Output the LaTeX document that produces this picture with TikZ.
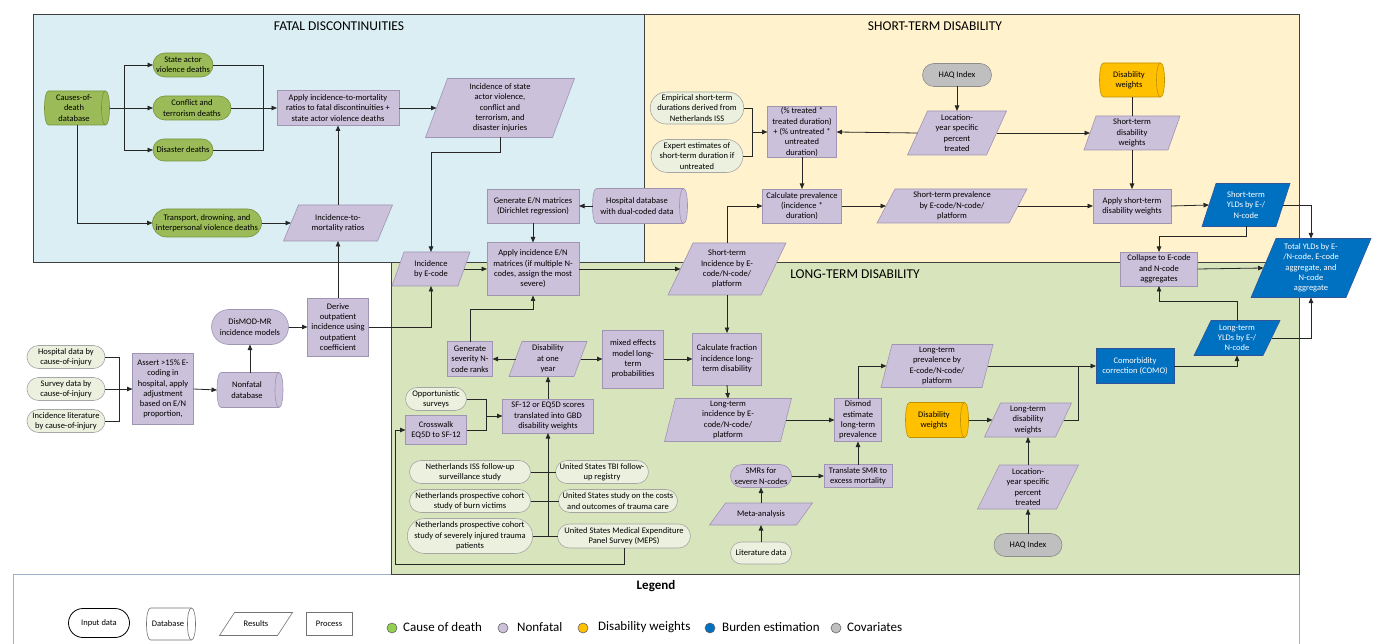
\documentclass[tikz,border=0pt]{standalone}
\usepackage{fontspec}
\setmainfont{Carlito}
\usetikzlibrary{arrows.meta,shapes.misc}
\definecolor{pBlue}{HTML}{DAEEF3}
\definecolor{pYel}{HTML}{FFF2CC}
\definecolor{pGrn}{HTML}{D8E4BC}
\definecolor{cPur}{HTML}{CCC1DA}
\definecolor{cPurB}{HTML}{9F95B3}
\definecolor{cGrn}{HTML}{9BBB59}
\definecolor{cGrnB}{HTML}{76923C}
\definecolor{cInp}{HTML}{EBF1DE}
\definecolor{cInpB}{HTML}{A6A6A6}
\definecolor{cOra}{HTML}{FFC000}
\definecolor{cOraB}{HTML}{BF9000}
\definecolor{cBlu}{HTML}{0070C0}
\definecolor{cBluB}{HTML}{2F5597}
\definecolor{cGry}{HTML}{BFBFBF}
\definecolor{cGryB}{HTML}{8C8C8C}
\definecolor{cLeg}{HTML}{9DB3CC}
\definecolor{cLine}{HTML}{262626}
\definecolor{cDotG}{HTML}{92D050}
% parallelogram: name, cx, cy, total width, height, slant, kind, text
\newcommand\ParaShape[8]{%
  \path[#7 shape] ({#2-#4/2+#6},{#3-#5/2}) -- ({#2+#4/2},{#3-#5/2}) -- ({#2+#4/2-#6},{#3+#5/2}) -- ({#2-#4/2},{#3+#5/2}) -- cycle;
  \node[#7 text, minimum width={(#4-#6)*1pt}, minimum height={#5*1pt}] (#1) at (#2,#3) {#8};}
% database: name, cx, cy, width, height, kind, text
\newcommand\DbShape[7]{%
  \path[#6 shape] ({#2-#4/2+4},{#3-#5/2}) -- ({#2+#4/2-4},{#3-#5/2})
    .. controls ({#2+#4/2+1.33},{#3-#5/2}) and ({#2+#4/2+1.33},{#3+#5/2}) .. ({#2+#4/2-4},{#3+#5/2})
    -- ({#2-#4/2+4},{#3+#5/2})
    .. controls ({#2-#4/2-1.33},{#3+#5/2}) and ({#2-#4/2-1.33},{#3-#5/2}) .. ({#2-#4/2+4},{#3-#5/2}) -- cycle;
  \path[#6 shape, fill=none] ({#2+#4/2-4},{#3-#5/2})
    .. controls ({#2+#4/2-9.33},{#3-#5/2}) and ({#2+#4/2-9.33},{#3+#5/2}) .. ({#2+#4/2-4},{#3+#5/2});
  \node[#6 text, minimum width={#4*1pt}, minimum height={#5*1pt}] (#1) at (#2,#3) {};
  \node[#6 text] (#1-t) at ({#2-3},#3) {#7};}
\begin{document}
\begin{tikzpicture}[x=1pt,y=-1pt,
  txt/.style={font=\fontsize{8.5}{10.3}\selectfont, align=center, inner sep=0pt, outer sep=0pt},
  proc/.style={txt, rectangle, fill=cPur, draw=cPurB, line width=0.6pt},
  procb/.style={txt, rectangle, fill=cBlu, draw=cBluB, line width=0.6pt, text=white},
  termg/.style={txt, rounded rectangle, fill=cGrn, draw=cGrnB, line width=0.6pt},
  termp/.style={txt, rounded rectangle, fill=cPur, draw=cPurB, line width=0.6pt},
  termgr/.style={txt, rounded rectangle, fill=cGry, draw=cGryB, line width=0.6pt},
  inp/.style={txt, rounded rectangle, fill=cInp, draw=cInpB, line width=0.6pt},
  pp shape/.style={fill=cPur, draw=cPurB, line width=0.6pt},
  pp text/.style={txt},
  pb shape/.style={fill=cBlu, draw=cBluB, line width=0.6pt},
  pb text/.style={txt, text=white},
  pg shape/.style={fill=cGrn, draw=cGrnB, line width=0.6pt},
  pg text/.style={txt},
  po shape/.style={fill=cOra, draw=cOraB, line width=0.6pt},
  po text/.style={txt},
  pw shape/.style={fill=white, draw=black!55, line width=0.6pt},
  pw text/.style={txt},
  ln/.style={draw=cLine, line width=0.8pt},
  arr/.style={ln, -{Triangle[length=5.5pt,width=4.5pt]}},
  title/.style={font=\fontsize{13.5}{16}\selectfont, inner sep=0pt},
  leglab/.style={font=\fontsize{13}{15}\selectfont, inner sep=0pt, anchor=west},
  legdot/.style={circle, minimum size=10pt, inner sep=0pt, line width=0.6pt},
]
\useasboundingbox (0,0) rectangle (1373,644);
% legend frame
\draw[cLeg, line width=0.9pt] (13,660) -- (13,574) -- (1299,574) -- (1299,660);
% panels
\fill[pBlue] (33,14) rectangle (644,262);
\fill[pYel] (644,14) rectangle (1299,262);
\fill[pGrn] (391,262) rectangle (1299,574);
\draw[black!75, line width=0.9pt] (33,14) rectangle (644,262);
\draw[black!75, line width=0.9pt] (644,14) rectangle (1299,262);
\draw[black!75, line width=0.9pt] (391,262) rectangle (1299,574);
\node[title] (tfatal) at (339,26) {FATAL DISCONTINUITIES};
\node[title] (tshort) at (935,26) {SHORT-TERM DISABILITY};
\node[title] (tlong) at (855,274) {LONG-TERM DISABILITY};

% ---------- fatal discontinuities
\DbShape{cod}{77}{108}{65}{34}{pg}{Causes-of-\\death\\database}
\node[termg, minimum width=60, minimum height=24] (state) at (183,65) {State actor\\violence deaths};
\node[termg, minimum width=78, minimum height=24] (conf) at (192,108) {Conflict and\\terrorism deaths};
\node[termg, minimum width=60, minimum height=22] (dis) at (183,150) {Disaster deaths};
\node[termg, minimum width=109, minimum height=28] (trans) at (207,223) {Transport, drowning, and\\interpersonal violence deaths};
\node[proc, minimum width=122, minimum height=35] (apply) at (338,108) {Apply incidence-to-mortality\\ratios to fatal discontinuities +\\state actor violence deaths};
\ParaShape{isv}{500}{108}{149}{59}{22}{pp}{Incidence of state\\actor violence,\\conflict and\\terrorism, and\\disaster injuries}
\ParaShape{imr}{338}{223}{109}{36}{15}{pp}{Incidence-to-\\mortality ratios}
\node[proc, minimum width=92, minimum height=34] (gen) at (533,206) {Generate E/N matrices\\(Dirichlet regression)};
\DbShape{hosp}{640}{206}{95}{35}{pp}{Hospital database\\with dual-coded data}

% ---------- left inputs
\node[inp, minimum width=78, minimum height=23] (hd) at (66,357) {Hospital data by\\cause-of-injury};
\node[inp, minimum width=78, minimum height=23] (sd) at (66,389) {Survey data by\\cause-of-injury};
\node[inp, minimum width=78, minimum height=23] (ld) at (66,421) {Incidence literature\\by cause-of-injury};
\node[proc, minimum width=61, minimum height=71] (assert) at (163,389) {Assert >15\% E-\\coding in\\hospital, apply\\adjustment\\based on E/N\\proportion,};
\DbShape{nfdb}{250}{390}{66}{35}{pp}{Nonfatal\\database}
\node[termp, minimum width=77, minimum height=35] (dismod) at (250,327) {DisMOD-MR\\incidence models};
\node[proc, minimum width=61, minimum height=58] (derive) at (338,327) {Derive\\outpatient\\incidence using\\outpatient\\coefficient};

% ---------- short-term
\node[inp, minimum width=92, minimum height=32] (emp) at (697,108) {Empirical short-term\\durations derived from\\Netherlands ISS};
\node[inp, minimum width=92, minimum height=33] (exp) at (697,156) {Expert estimates of\\short-term duration if\\untreated};
\node[proc, minimum width=69, minimum height=51] (trt) at (802,132) {(\% treated *\\treated duration)\\+ (\% untreated *\\untreated\\duration)};
\node[termgr, minimum width=69, minimum height=23] (haq1) at (957,75) {HAQ Index};
\ParaShape{loc1}{957}{133}{99}{44}{20}{pp}{Location-\\year specific\\percent\\treated}
\DbShape{dw1}{1132}{80}{65}{34}{po}{Disability\\weights}
\ParaShape{stdw}{1132}{133}{96}{34}{12}{pp}{Short-term\\disability\\weights}
\node[proc, minimum width=79, minimum height=34] (calcp) at (802,206) {Calculate prevalence\\(incidence *\\duration)};
\ParaShape{stp}{952}{206}{150}{34}{18}{pp}{Short-term prevalence\\by E-code/N-code/\\platform}
\node[proc, minimum width=78, minimum height=34] (astdw) at (1132,206) {Apply short-term\\disability weights};
\ParaShape{styld}{1246}{205}{88}{43}{14}{pb}{Short-term\\YLDs by E-/\\N-code}

% ---------- long-term
\node[proc, minimum width=77, minimum height=34] (collapse) at (1159,269) {Collapse to E-code\\and N-code\\aggregates};
\ParaShape{total}{1311}{268}{120}{59}{25}{pb}{Total YLDs by E-\\/N-code, E-code\\aggregate, and\\N-code\\aggregate}
\ParaShape{ltyld}{1237}{338}{86}{35}{17}{pb}{Long-term\\YLDs by E-/\\N-code}
\node[procb, minimum width=78, minimum height=35] (como) at (1135,366) {Comorbidity\\correction (COMO)};
\ParaShape{ltp}{937}{366}{112}{43}{11}{pp}{Long-term\\prevalence by\\E-code/N-code/\\platform}
\node[proc, minimum width=47, minimum height=43] (dismod2) at (858,420) {Dismod\\estimate\\long-term\\prevalence};
\ParaShape{lti}{728}{420}{127}{43}{11}{pp}{Long-term\\incidence by E-\\code/N-code/\\platform}
\node[proc, minimum width=69, minimum height=52] (cfl) at (727,359) {Calculate fraction\\incidence long-\\term disability};
\ParaShape{sti}{727}{269}{118}{52}{25}{pp}{Short-term\\Incidence by E-\\code/N-code/\\platform}
\ParaShape{ibe}{431}{269}{78}{34}{12}{pp}{Incidence\\by E-code}
\node[proc, minimum width=92, minimum height=53] (aien) at (533,269) {Apply incidence E/N\\matrices (if multiple N-\\codes, assign the most\\severe)};
\node[proc, minimum width=45, minimum height=35] (gsr) at (470,359) {Generate\\severity N-\\code ranks};
\ParaShape{dao}{548}{359}{78}{35}{13}{pp}{Disability\\at one\\year}
\node[proc, minimum width=61, minimum height=58] (mixed) at (633,359) {mixed effects\\model long-\\term\\probabilities};
\node[proc, minimum width=91, minimum height=34] (sf) at (548,416) {SF-12 or EQ5D scores\\translated into GBD\\disability weights};
\node[inp, minimum width=61, minimum height=23] (opp) at (436,399) {Opportunistic\\surveys};
\node[proc, minimum width=61, minimum height=29] (cw) at (436,430) {Crosswalk\\EQ5D to SF-12};
\node[inp, minimum width=121, minimum height=23] (nl1) at (470,472) {Netherlands ISS follow-up\\surveillance study};
\node[inp, minimum width=121, minimum height=23] (nl2) at (470,501) {Netherlands prospective cohort\\study of burn victims};
\node[inp, minimum width=121, minimum height=35] (nl3) at (470,536) {Netherlands prospective cohort\\study of severely injured trauma\\patients};
\node[inp, minimum width=91, minimum height=23] (us1) at (602,472) {United States TBI follow-\\up registry};
\node[inp, minimum width=119, minimum height=23] (us2) at (618,501) {United States study on the costs\\and outcomes of trauma care};
\node[inp, minimum width=133, minimum height=24] (us3) at (624,536) {United States Medical Expenditure\\Panel Survey (MEPS)};
\node[inp, minimum width=61, minimum height=22] (lit) at (761,553) {Literature data};
\ParaShape{meta}{761}{514}{103}{22}{16}{pp}{Meta-analysis}
\node[termp, minimum width=61, minimum height=23] (smr) at (761,476) {SMRs for\\severe N-codes};
\node[proc, minimum width=68, minimum height=23] (translate) at (858,476) {Translate SMR to\\excess mortality};
\DbShape{dw2}{937}{420}{63}{35}{po}{Disability\\weights}
\ParaShape{ltdw}{1028}{420}{87}{34}{16}{pp}{Long-term\\disability\\weights}
\ParaShape{loc2}{1028}{487}{101}{44}{22}{pp}{Location-\\year specific\\percent\\treated}
\node[termgr, minimum width=68, minimum height=23] (haq2) at (1028,545) {HAQ Index};

% ---------- bus coordinates
\coordinate (b1) at (124,108);
\coordinate (b2) at (263,108);
\coordinate (b3) at (119,389);
\coordinate (b4) at (752,132);
\coordinate (b5) at (1078,366);
\coordinate (b6) at (486,416);
\coordinate (b7) at (548,536);
\coordinate (b8) at (395,564);

% ---------- connectors
\draw[arr] (cod.east) -- (conf.west);
\draw[arr] (b1) |- (state.west);
\draw[arr] (b1) |- (dis.west);
\draw[arr] (cod.south) |- (trans.west);
\draw[ln] (state.east) -| (b2);
\draw[ln] (dis.east) -| (b2);
\draw[arr] (conf.east) -- (apply.west);
\draw[arr] (trans.east) -- (imr.west);
\draw[arr] (imr.north) -- (apply.south);
\draw[arr] (apply.east) -- (isv.west);
\draw[arr] (isv.south) -- ++(0,15) -| (ibe.north);
\draw[arr] (hosp.west) -- (gen.east);
\draw[arr] (gen.south) -- (aien.north);
\draw[arr] (ibe.east) -- (aien.west);
\draw[arr] (derive.east) -| (ibe.south);
\draw[arr] (derive.north) -- (imr.south);

\draw[ln] (hd.east) -| (b3);
\draw[ln] (ld.east) -| (b3);
\draw[arr] (sd.east) -- (assert.west);
\draw[arr] (assert.east) -- (nfdb.west);
\draw[arr] (nfdb.north) -- (dismod.south);
\draw[arr] (dismod.east) -- (derive.west);

\draw[ln] (emp.east) -| (b4);
\draw[ln] (exp.east) -| (b4);
\draw[arr] (b4) -- (trt.west);
\draw[arr] (loc1.west) -- (trt.east);
\draw[arr] (haq1.south) -- (loc1.north);
\draw[arr] (loc1.east) -- (stdw.west);
\draw[ln] (dw1.south) -- (stdw.north);
\draw[arr] (stdw.south) -- (astdw.north);
\draw[arr] (trt.south) -- (calcp.north);
\draw[arr] (calcp.east) -- (stp.west);
\draw[arr] (stp.east) -- (astdw.west);
\draw[arr] (astdw.east) -- (styld.west);
\draw[arr] (sti.north) |- (calcp.west);
\draw[arr] (styld.east) -| (total.north);
\draw[arr] (styld.south) -- ++(0,10) -| (collapse.north);

\draw[arr] (collapse.east) -- (total.west);
\draw[arr] (ltyld.east) -| (total.south);
\draw[arr] (ltyld.north) -- ++(0,-19) -| (collapse.south);
\draw[arr] (como.east) -| (ltyld.south);
\draw[arr] (ltp.east) -- (como.west);
\draw[ln] (ltdw.east) -| (b5);
\draw[arr] (dismod2.north) |- (ltp.west);
\draw[arr] (lti.east) -- (dismod2.west);
\draw[arr] (translate.north) -- (dismod2.south);
\draw[arr] (smr.east) -- (translate.west);
\draw[arr] (meta.north) -- (smr.south);
\draw[arr] (lit.north) -- (meta.south);
\draw[arr] (dw2.east) -- (ltdw.west);
\draw[arr] (loc2.north) -- (ltdw.south);
\draw[arr] (haq2.north) -- (loc2.south);
\draw[arr] (cfl.south) -- (lti.north);
\draw[arr] (sti.south) -- (cfl.north);
\draw[arr] (aien.east) -- (sti.west);
\draw[arr] (mixed.east) -- (cfl.west);
\draw[arr] (dao.east) -- (mixed.west);
\draw[arr] (dao.west) -- (gsr.east);
\draw[arr] (gsr.north) -- ++(0,-32) -| (aien.south);
\draw[arr] (sf.north) -- (dao.south);
\draw[ln] (opp.east) -| (b6);
\draw[ln] (cw.east) -| (b6);
\draw[arr] (b6) -- (sf.west);
\draw[ln] (nl1.east) -- (us1.west);
\draw[ln] (nl2.east) -- (us2.west);
\draw[ln] (nl3.east) -- (us3.west);
\draw[arr] (b7) -- (sf.south);
\draw[arr] (us3.south) |- (b8) |- (cw.west);

% ---------- legend
\node[font=\bfseries\fontsize{13}{15}\selectfont, inner sep=0pt] (legt) at (656,586) {Legend};
\node[txt, rounded rectangle, fill=white, draw=black, line width=0.8pt, minimum width=61, minimum height=29] (lin) at (99,623) {Input data};
\DbShape{ldb}{171}{624}{49}{32}{pw}{Database}
\ParaShape{lres}{256}{624}{73}{23}{15}{pw}{Results}
\node[txt, rectangle, fill=white, draw=black!55, line width=0.6pt, minimum width=46, minimum height=23] (lproc) at (329,624) {Process};
\node[legdot, fill=cDotG, draw=black!60] (d1) at (392,628) {};
\node[leglab] (l1) at (403,627) {Cause of death};
\node[legdot, fill=cPur, draw=black!60] (d2) at (503,628) {};
\node[leglab] (l2) at (517,627) {Nonfatal};
\node[legdot, fill=cOra, draw=black!60] (d3) at (583,628) {};
\node[leglab] (l3) at (598,627) {Disability weights};
\node[legdot, fill=cBlu, draw=black!60] (d4) at (710,628) {};
\node[leglab] (l4) at (722,627) {Burden estimation};
\node[legdot, fill=cGry, draw=black!60] (d5) at (836,628) {};
\node[leglab] (l5) at (847,627) {Covariates};
\end{tikzpicture}
\end{document}
